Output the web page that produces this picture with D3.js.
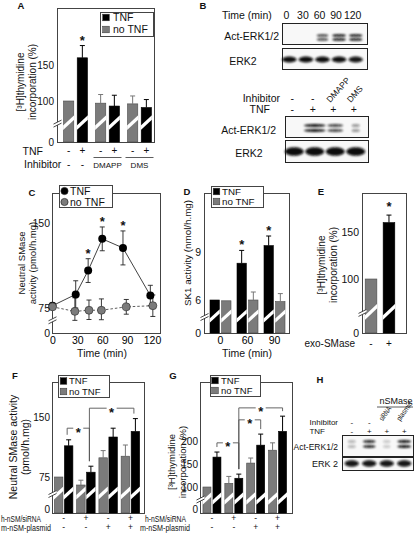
<!DOCTYPE html>
<html><head><meta charset="utf-8">
<script src="https://cdn.jsdelivr.net/npm/d3@7"></script>
<style>
html,body{margin:0;padding:0;background:#fff;}
svg{display:block;font-family:"Liberation Sans",Arial,Helvetica,sans-serif;}
</style></head><body>
<svg id="c" width="416" height="535"></svg>
<script>
// ================= DATA =================
// Panel A
const aInhibitor = ["-", "DMAPP", "DMS"];
const aNoTNF = [100, 97, 96];
const aNoTNFErr = [0, 12, 11];
const aTNF = [160, 93, 91];
const aTNFErr = [17, 15, 11];
const aTNFSig = [true, false, false];
const aYTicks = [0, 100, 150];
// Panel B
const bTimes = ["0", "30", "60", "90", "120"];
const bActUpper = [0, 0, 0.7, 1, 0.95];
const bErkUpper = [0.95, 0.95, 0.95, 0.95, 0.9];
const bInhibitor = ["-", "-", "DMAPP", "DMS"];
const bTNF = ["-", "+", "+", "+"];
const bActLower = [0, 1, 0.7, 0.3];
const bErkLower = [1, 1, 1, 1];
// Panel C
const cTimeTNF = [0, 28, 43, 60, 85, 118];
const cTNF = [77, 87, 108, 136, 128, 86];
const cTNFErr = [0, 12, 10.5, 10.5, 15, 9];
const cTNFSig = [false, false, true, true, true, false];
const cTimeNo = [0, 27, 44, 59, 89, 121];
const cNoTNF = [76, 72, 73, 73, 76, 77];
const cNoTNFErr = [0, 12, 9, 10, 6.5, 9.5];
const cXTicks = [0, 30, 60, 90, 120];
const cYTicks = [0, 75, 150];
// Panel D
const dTimes = ["0", "60", "90"];
const dTNF = [6.0, 8.3, 9.4];
const dTNFErr = [0, 0.8, 0.6];
const dTNFSig = [false, true, true];
const dNoTNF = [5.95, 6.0, 5.9];
const dNoTNFErr = [0, 0.5, 0.5];
const dYTicks = [0, 6, 9];
// Panel E
const eCats = ["-", "+"];
const eVals = [100, 160];
const eErr = [0, 8];
const eSig = [false, true];
const eYTicks = [0, 100, 150];
// Panel F
const fSiRNA = ["-", "+", "-", "+"];
const fPlasmid = ["-", "-", "+", "+"];
const fNoTNF = [75, 65, 99, 101];
const fNoTNFErr = [0, 6, 9, 14];
const fTNF = [114, 81, 125, 132];
const fTNFErr = [7.5, 7.5, 11, 16];
const fBrackets = [[0, 1, 136], [1, 3, 161]];
const fYTicks = [0, 75, 150];
// Panel G
const gSiRNA = ["-", "+", "-", "+"];
const gPlasmid = ["-", "-", "+", "+"];
const gNoTNF = [100, 108, 152, 180];
const gNoTNFErr = [0, 15, 11, 16];
const gTNF = [165, 119, 191, 221];
const gTNFErr = [11, 9, 24, 33];
const gBrackets = [[0, 1, 196], [1, 2, 246], [1, 3, 272]];
const gYTicks = [0, 100, 150, 200];
// Panel H
const hInhibitor = ["-", "-", "siRNA", "plasmid"];
const hTNF = ["-", "+", "+", "+"];
const hAct = [0.15, 0.85, 0.06, 1];
const hErk = [0.9, 0.9, 0.9, 0.9];

const legendItems = [{label: "TNF", color: "#000"}, {label: "no TNF", color: "#7b7b7b"}];

// ================= HELPERS =================
const GREY = "#7b7b7b", BLK = "#000";
const FONT = "'Liberation Sans', Arial, Helvetica, sans-serif";
const svg = d3.select("#c");
svg.append("rect").attr("width", 416).attr("height", 535).attr("fill", "#fff");
const defs = svg.append("defs");
defs.append("filter").attr("id", "blur").attr("x", "-50%").attr("y", "-150%")
  .attr("width", "200%").attr("height", "400%")
  .append("feGaussianBlur").attr("stdDeviation", 0.8);

function T(g, x, y, s, o = {}) {
  const t = g.append("text").attr("x", x).attr("y", y).text(s)
    .attr("font-size", o.size || 10).attr("text-anchor", o.anchor || "middle")
    .attr("fill", o.fill || "#111");
  if (o.bold) t.attr("font-weight", "bold");
  if (o.rot != null) t.attr("transform", `rotate(${o.rot},${x},${y})`);
  if (o.len) t.attr("textLength", o.len).attr("lengthAdjust", "spacingAndGlyphs");
  if (o.dy) t.attr("dy", o.dy);
  return t;
}
function frame(g, x0, y0, x1, y1) {
  g.append("rect").attr("x", x0 + .5).attr("y", y0 + .5).attr("width", x1 - x0).attr("height", y1 - y0)
    .attr("fill", "none").attr("stroke", "#444").attr("stroke-width", 1);
}
function yAxis(g, y, ticks, x, size, pad, zeroDy) {
  const ax = g.append("g").attr("transform", `translate(${x},0)`)
    .call(d3.axisLeft(y).tickValues(ticks).tickSize(0).tickPadding(pad == null ? 3 : pad));
  ax.select(".domain").remove();
  ax.attr("font-size", size || 10).attr("font-family", FONT);
  ax.selectAll("text").attr("fill", "#111");
  if (zeroDy != null) ax.selectAll(".tick").filter(d => d === 0).select("text").attr("dy", zeroDy);
  return ax;
}
function yLabel(g, lines, xs, cy, size) {
  lines.forEach((l, i) => T(g, xs[i], cy, l, {rot: -90, size: size, dy: "0.35em"}));
}
function breakMark(g, x, y) {
  g.append("polygon").attr("points", `${x-4},${y+1.5} ${x+4},${y-2.5} ${x+4},${y+0.5} ${x-4},${y+4.5}`).attr("fill", "#fff");
  [0, 3].forEach(d => g.append("line").attr("x1", x - 4).attr("y1", y + 1.5 + d).attr("x2", x + 4).attr("y2", y - 2.5 + d)
    .attr("stroke", "#333").attr("stroke-width", 0.9));
}
function bar(g, x, w, v, err, color, y, brk, sig, astGap) {
  const y0 = y(0), yt = y(v);
  g.append("rect").attr("x", x).attr("y", yt).attr("width", w).attr("height", y0 - yt)
    .attr("fill", color).attr("stroke", color === BLK ? BLK : "#4a4a4a").attr("stroke-width", 0.6);
  const yc = y(brk), t = 2.2;
  g.append("polygon").attr("points",
    [[x - 0.4, yc + w / 2 + t], [x + w + 0.4, yc - w / 2 + t], [x + w + 0.4, yc - w / 2 - t], [x - 0.4, yc + w / 2 - t]]
      .map(p => p.join(",")).join(" ")).attr("fill", "#fff");
  const cx = x + w / 2;
  let ye = yt;
  if (err > 0) {
    ye = y(v + err);
    const ec = color === BLK ? "#000" : "#777";
    g.append("line").attr("x1", cx).attr("x2", cx).attr("y1", yt).attr("y2", ye).attr("stroke", ec).attr("stroke-width", 1);
    g.append("line").attr("x1", cx - 2.5).attr("x2", cx + 2.5).attr("y1", ye).attr("y2", ye).attr("stroke", ec).attr("stroke-width", 1);
  }
  if (sig) T(g, cx, ye - (astGap == null ? 1 : astGap), "*", {size: 13, bold: true});
}
function legend(g, box, rows, mx, tx, size, shape) {
  g.append("rect").attr("x", box[0] + .5).attr("y", box[1] + .5).attr("width", box[2] - box[0]).attr("height", box[3] - box[1])
    .attr("fill", "#fff").attr("stroke", "#444");
  legendItems.forEach((it, i) => {
    if (shape === "circle") {
      g.append("circle").attr("cx", mx).attr("cy", rows[i]).attr("r", 3.6).attr("fill", it.color).attr("stroke", "#222").attr("stroke-width", 0.7);
    } else {
      g.append("rect").attr("x", mx - 3.3).attr("y", rows[i] - 3.3).attr("width", 6.6).attr("height", 6.6)
        .attr("fill", it.color).attr("stroke", "#333").attr("stroke-width", 0.5);
    }
    T(g, tx, rows[i], it.label, {anchor: "start", size: size, dy: "0.36em"});
  });
}
function bracket(g, xa, ya, xb, yb, yl) {
  const mid = (xa + xb) / 2, gap = 5;
  g.append("path").attr("d", `M${xa},${ya}V${yl}H${mid - gap}M${mid + gap},${yl}H${xb}V${yb}`)
    .attr("fill", "none").attr("stroke", "#555").attr("stroke-width", 0.9);
  T(g, mid, yl + 8.5, "*", {size: 13, bold: true});
}
function blot(g, box, sc, vals, ys, h, maxW, minFrac) {
  g.append("rect").attr("x", box[0] + .5).attr("y", box[1] + .5).attr("width", box[2] - box[0]).attr("height", box[3] - box[1])
    .attr("fill", "#f8f8f8").attr("stroke", "#222").attr("stroke-width", 1);
  const keys = sc.domain();
  vals.forEach((v, i) => {
    if (v <= 0) return;
    const cx = sc(keys[i]) + sc.bandwidth() / 2;
    const w = maxW * (minFrac + (1 - minFrac) * v);
    ys.forEach(yy => g.append("ellipse").attr("cx", cx).attr("cy", yy).attr("rx", w / 2).attr("ry", h / 2)
      .attr("fill", "#0a0a0a").attr("opacity", Math.min(1, 0.15 + 0.9 * v)).attr("filter", "url(#blur)"));
  });
}

// ================= PANEL A =================
{
  const g = svg.append("g");
  const X0 = 57, X1 = 154, YT = 8, YB = 142;
  const y = d3.scaleLinear().domain([0, 70, 150]).range([YB, 122.6, 65]);
  const gx = d3.scaleBand().domain(d3.range(aInhibitor.length)).range([59.5, 155.5]);
  const ix = d3.scaleBand().domain(["no", "tnf"]).range([4, 28]).paddingInner(0.25);
  T(g, 21, 9, "A", {bold: true, size: 9.5});
  frame(g, X0, YT, X1, YB);
  aInhibitor.forEach((inh, i) => {
    bar(g, gx(i) + ix("no"), ix.bandwidth(), aNoTNF[i], aNoTNFErr[i], GREY, y, 70, false);
    bar(g, gx(i) + ix("tnf"), ix.bandwidth(), aTNF[i], aTNFErr[i], BLK, y, 70, aTNFSig[i]);
    const cn = gx(i) + ix("no") + ix.bandwidth() / 2, ct = gx(i) + ix("tnf") + ix.bandwidth() / 2;
    T(g, cn, 154, "-", {size: 10});
    T(g, ct, 154, "+", {size: 10});
    if (inh === "-") {
      T(g, cn, 168, "-", {size: 10});
      T(g, ct, 168, "-", {size: 10});
    } else {
      g.append("line").attr("x1", gx(i) + ix("no") - 2).attr("x2", gx(i) + ix("tnf") + ix.bandwidth() + 2)
        .attr("y1", 157.5).attr("y2", 157.5).attr("stroke", "#333").attr("stroke-width", 0.8);
      T(g, (cn + ct) / 2, 167.5, inh, {size: 8});
    }
  });
  breakMark(g, X0 + .5, y(70));
  yAxis(g, y, aYTicks, X0, 10, 3);
  yLabel(g, ["[³H]thymidine", "incorporation (%)"], [20, 32], 82, 10);
  legend(g, [100, 12, 153, 36], [17.5, 29.5], 106, 113, 10.5, "rect");
  T(g, 43, 154.5, "TNF", {anchor: "end", size: 10.5});
  T(g, 24, 168, "Inhibitor", {anchor: "start", size: 10.5});
}

// ================= PANEL B =================
{
  const g = svg.append("g");
  T(g, 203, 9, "B", {bold: true, size: 9.5});
  const bx = d3.scaleBand().domain(bTimes).range([281, 364]);
  T(g, 222, 19, "Time (min)", {anchor: "start", size: 10.5});
  bTimes.forEach(t => T(g, bx(t) + bx.bandwidth() / 2 - 3, 19, t, {size: 10.5}));
  blot(g, [282, 23, 367, 44], bx, bActUpper, [35.5, 39.5], 2.6, 14, 0.5);
  blot(g, [282, 48, 367, 69], bx, bErkUpper, [59.5], 6, 15, 0.5);
  T(g, 279, 39.5, "Act-ERK1/2", {anchor: "end", size: 10.5});
  T(g, 243, 64.5, "ERK2", {size: 10.5});

  const bl = d3.scaleBand().domain(d3.range(bInhibitor.length)).range([284, 366]);
  const lc = i => bl(i) + bl.bandwidth() / 2;
  T(g, 280, 102, "Inhibitor", {anchor: "end", size: 10.5});
  T(g, 270, 112.5, "TNF", {anchor: "end", size: 10.5});
  bInhibitor.forEach((s, i) => {
    if (s === "-") T(g, lc(i) - 2, 102, s, {size: 10.5});
    else T(g, lc(i) - 5, 103, s, {anchor: "start", size: 8.5, rot: -48});
  });
  bTNF.forEach((s, i) => T(g, lc(i) - 2, 112.5, s, {size: 10.5}));
  blot(g, [285, 116, 368, 137], bl, bActLower, [125.5, 130.5], 3, 22, 0.1);
  blot(g, [285, 140, 368, 162], bl, bErkLower, [151.5], 8.5, 19, 0.5);
  T(g, 276, 134, "Act-ERK1/2", {anchor: "end", size: 10.5});
  T(g, 249, 156.5, "ERK2", {size: 10.5});
}

// ================= PANEL C =================
{
  const g = svg.append("g");
  const X0 = 52, X1 = 160, YT = 193, YB = 333;
  const x = d3.scaleLinear().domain([0, 120]).range([52.5, 152]);
  const y = d3.scaleLinear().domain([0, 65, 150]).range([YB, 319.3, 223]);
  T(g, 32, 196, "C", {bold: true, size: 9.5});
  frame(g, X0, YT, X1, YB);
  const line = d3.line();
  const tnfPts = cTimeTNF.map((t, i) => [x(t), y(cTNF[i])]);
  const noPts = cTimeNo.map((t, i) => [x(t), y(cNoTNF[i])]);
  g.append("path").attr("d", line(tnfPts)).attr("fill", "none").attr("stroke", "#111").attr("stroke-width", 0.8);
  g.append("path").attr("d", line(noPts)).attr("fill", "none").attr("stroke", "#333").attr("stroke-width", 0.8).attr("stroke-dasharray", "2.5,2");
  function eb(px, v, e) {
    if (e <= 0) return;
    const a = y(v - e), b = y(v + e);
    g.append("line").attr("x1", px).attr("x2", px).attr("y1", a).attr("y2", b).attr("stroke", "#222").attr("stroke-width", 0.9);
    [a, b].forEach(yy => g.append("line").attr("x1", px - 2.5).attr("x2", px + 2.5).attr("y1", yy).attr("y2", yy).attr("stroke", "#222").attr("stroke-width", 0.9));
  }
  cTimeTNF.forEach((t, i) => eb(x(t), cTNF[i], cTNFErr[i]));
  cTimeNo.forEach((t, i) => eb(x(t), cNoTNF[i], cNoTNFErr[i]));
  tnfPts.forEach((p, i) => {
    g.append("circle").attr("cx", p[0]).attr("cy", p[1]).attr("r", 4).attr("fill", "#000");
    if (cTNFSig[i]) T(g, p[0], y(cTNF[i] + cTNFErr[i]) - 1, "*", {size: 13, bold: true});
  });
  noPts.forEach(p => g.append("circle").attr("cx", p[0]).attr("cy", p[1]).attr("r", 4).attr("fill", GREY).attr("stroke", "#333").attr("stroke-width", 0.7));
  breakMark(g, X0 + .5, y(65));
  yAxis(g, y, cYTicks, X0, 10.5, 2);
  const xa = g.append("g").attr("transform", `translate(0,${YB})`)
    .call(d3.axisBottom(x).tickValues(cXTicks).tickSize(0).tickPadding(4));
  xa.select(".domain").remove();
  xa.attr("font-size", 10.5).attr("font-family", FONT);
  T(g, 102, 357, "Time (min)", {size: 10.5});
  yLabel(g, ["Neutral SMase", "activity (pmol/h.mg)"], [22, 33], 263, 9.5);
  legend(g, [59, 185, 112, 207], [191, 202], 64.5, 70, 10.5, "circle");
}

// ================= PANEL D =================
{
  const g = svg.append("g");
  const X0 = 204, X1 = 289, YT = 193, YB = 333;
  const y = d3.scaleLinear().domain([0, 5, 9]).range([YB, 316, 252]);
  const gx = d3.scaleBand().domain(dTimes).range([207, 288]);
  const ix = d3.scaleBand().domain(["tnf", "no"]).range([3, 24]).paddingInner(0.2);
  T(g, 187, 195, "D", {bold: true, size: 9.5});
  frame(g, X0, YT, X1, YB);
  dTimes.forEach((t, i) => {
    bar(g, gx(t) + ix("tnf"), ix.bandwidth(), dTNF[i], dTNFErr[i], BLK, y, 5, dTNFSig[i]);
    bar(g, gx(t) + ix("no"), ix.bandwidth(), dNoTNF[i], dNoTNFErr[i], GREY, y, 5, false);
  });
  breakMark(g, X0 + .5, y(5));
  yAxis(g, y, dYTicks, X0, 10.5, 3);
  const xa = g.append("g").attr("transform", `translate(0,${YB})`)
    .call(d3.axisBottom(gx).tickSize(0).tickPadding(4));
  xa.select(".domain").remove();
  xa.attr("font-size", 10.5).attr("font-family", FONT);
  T(g, 247, 357, "Time (min)", {size: 10.5});
  yLabel(g, ["SK1 activity (nmol/h.mg)"], [188], 253, 9.8);
  legend(g, [211, 186, 263, 207], [191.5, 201.5], 216.5, 222, 9.8, "rect");
}

// ================= PANEL E =================
{
  const g = svg.append("g");
  const X0 = 362, X1 = 406, YT = 193, YB = 333;
  const y = d3.scaleLinear().domain([0, 65, 150]).range([YB, 311.9, 232]);
  const x = d3.scaleBand().domain(eCats).range([362.5, 397.5]).paddingInner(0.35).paddingOuter(0.15);
  T(g, 321, 195, "E", {bold: true, size: 9.5});
  frame(g, X0, YT, X1, YB);
  eCats.forEach((c, i) => {
    bar(g, x(c), x.bandwidth(), eVals[i], eErr[i], i === 0 ? GREY : BLK, y, 65, eSig[i], 4);
    T(g, x(c) + x.bandwidth() / 2, 347, c, {size: 10});
  });
  breakMark(g, X0 + .5, y(65));
  yAxis(g, y, eYTicks, X0, 10.5, 3);
  T(g, 355, 347, "exo-SMase", {anchor: "end", size: 10});
  yLabel(g, ["[³H]thymidine", "incorporation (%)"], [321, 333], 265, 10);
}

// ================= PANEL F =================
{
  const g = svg.append("g");
  const X0 = 52, X1 = 144, YT = 382, YB = 513;
  const y = d3.scaleLinear().domain([0, 55, 150]).range([YB, 493, 417]);
  const gx = d3.scaleBand().domain(d3.range(fTNF.length)).range([52.5, 141.5]);
  const ix = d3.scaleBand().domain(["no", "tnf"]).range([1.9, 20.4]).paddingInner(0.15);
  T(g, 15, 379, "F", {bold: true, size: 9.5});
  frame(g, X0, YT, X1, YB);
  const tc = i => gx(i) + ix("tnf") + ix.bandwidth() / 2;
  fTNF.forEach((v, i) => {
    bar(g, gx(i) + ix("no"), ix.bandwidth(), fNoTNF[i], fNoTNFErr[i], GREY, y, 55, false);
    bar(g, gx(i) + ix("tnf"), ix.bandwidth(), v, fTNFErr[i], BLK, y, 55, false);
    const gc = gx(i) + gx.bandwidth() / 2;
    T(g, gc, 521, fSiRNA[i], {size: 8.5});
    T(g, gc, 530, fPlasmid[i], {size: 8.5});
  });
  fBrackets.forEach(([a, b, lv]) => {
    bracket(g, tc(a) - 1.5, y(fTNF[a] + fTNFErr[a]) - 5, tc(b) - 1.5, y(fTNF[b] + fTNFErr[b]) - 5, y(lv));
  });
  breakMark(g, X0 + .5, y(55));
  yAxis(g, y, fYTicks, X0, 10, 2, "-0.05em");
  yLabel(g, ["Neutral SMase activity", "(pmol/h.mg)"], [13, 25], 447, 10.5);
  legend(g, [58, 375, 109, 397], [381, 391.5], 63.5, 69, 9.5, "rect");
  T(g, 41, 521.5, "h-nSM/siRNA", {anchor: "end", size: 8.5, len: 40});
  T(g, 51, 530.5, "m-nSM-plasmid", {anchor: "end", size: 8.5, len: 50});
}

// ================= PANEL G =================
{
  const g = svg.append("g");
  const X0 = 200, X1 = 292, YT = 382, YB = 513;
  const y = d3.scaleLinear().domain([0, 75, 200]).range([YB, 498.5, 441]);
  const gx = d3.scaleBand().domain(d3.range(gTNF.length)).range([201, 288.5]);
  const ix = d3.scaleBand().domain(["no", "tnf"]).range([1.95, 19.95]).paddingInner(0.2);
  T(g, 173, 379, "G", {bold: true, size: 9.5});
  frame(g, X0, YT, X1, YB);
  const tc = i => gx(i) + ix("tnf") + ix.bandwidth() / 2;
  gTNF.forEach((v, i) => {
    bar(g, gx(i) + ix("no"), ix.bandwidth(), gNoTNF[i], gNoTNFErr[i], GREY, y, 75, false);
    bar(g, gx(i) + ix("tnf"), ix.bandwidth(), v, gTNFErr[i], BLK, y, 75, false);
    const gc = gx(i) + gx.bandwidth() / 2;
    T(g, gc, 521, gSiRNA[i], {size: 8.5});
    T(g, gc, 530, gPlasmid[i], {size: 8.5});
  });
  gBrackets.forEach(([a, b, lv]) => {
    bracket(g, tc(a), y(gTNF[a] + gTNFErr[a]) - 5, tc(b), y(gTNF[b] + gTNFErr[b]) - 5, y(lv));
  });
  breakMark(g, X0 + .5, y(75));
  yAxis(g, y, gYTicks, X0, 10, 2, "-0.05em");
  yLabel(g, ["[³H]thymidine", "incorporation (%)"], [172, 183], 462, 9.5);
  legend(g, [210, 375, 260, 396], [380.5, 390.5], 215, 221, 9.5, "rect");
  T(g, 186, 521.5, "h-nSM/siRNA", {anchor: "end", size: 8.5, len: 41});
  T(g, 190, 530.5, "m-nSM-plasmid", {anchor: "end", size: 8.5, len: 50});
}

// ================= PANEL H =================
{
  const g = svg.append("g");
  T(g, 320, 383, "H", {bold: true, size: 9.5});
  const hx = d3.scaleBand().domain(d3.range(hTNF.length)).range([343, 413]);
  const lc = i => hx(i) + hx.bandwidth() / 2;
  T(g, 396, 404, "nSMase", {size: 9});
  g.append("line").attr("x1", hx(2) - 1).attr("x2", hx(3) + hx.bandwidth()).attr("y1", 407).attr("y2", 407)
    .attr("stroke", "#333").attr("stroke-width", 0.8);
  T(g, 338, 425, "Inhibitor", {anchor: "end", size: 8});
  T(g, 325, 433.5, "TNF", {anchor: "end", size: 8});
  hInhibitor.forEach((s, i) => {
    if (s === "-") T(g, lc(i), 425, s, {size: 8});
    else T(g, lc(i) - 4, 421.5, s, {anchor: "start", size: 7.5, rot: -55, len: s.length * 3.1});
  });
  hTNF.forEach((s, i) => T(g, lc(i), 433.5, s, {size: 8}));
  blot(g, [342, 435, 413, 456], hx, hAct, [441.5, 446.5], 3, 14, 0.5);
  blot(g, [342, 457, 413, 470], hx, hErk, [463.5], 6.5, 15, 0.5);
  T(g, 338, 449.5, "Act-ERK1/2", {anchor: "end", size: 8.5});
  T(g, 338, 467, "ERK 2", {anchor: "end", size: 9});
}
</script>
</body></html>
